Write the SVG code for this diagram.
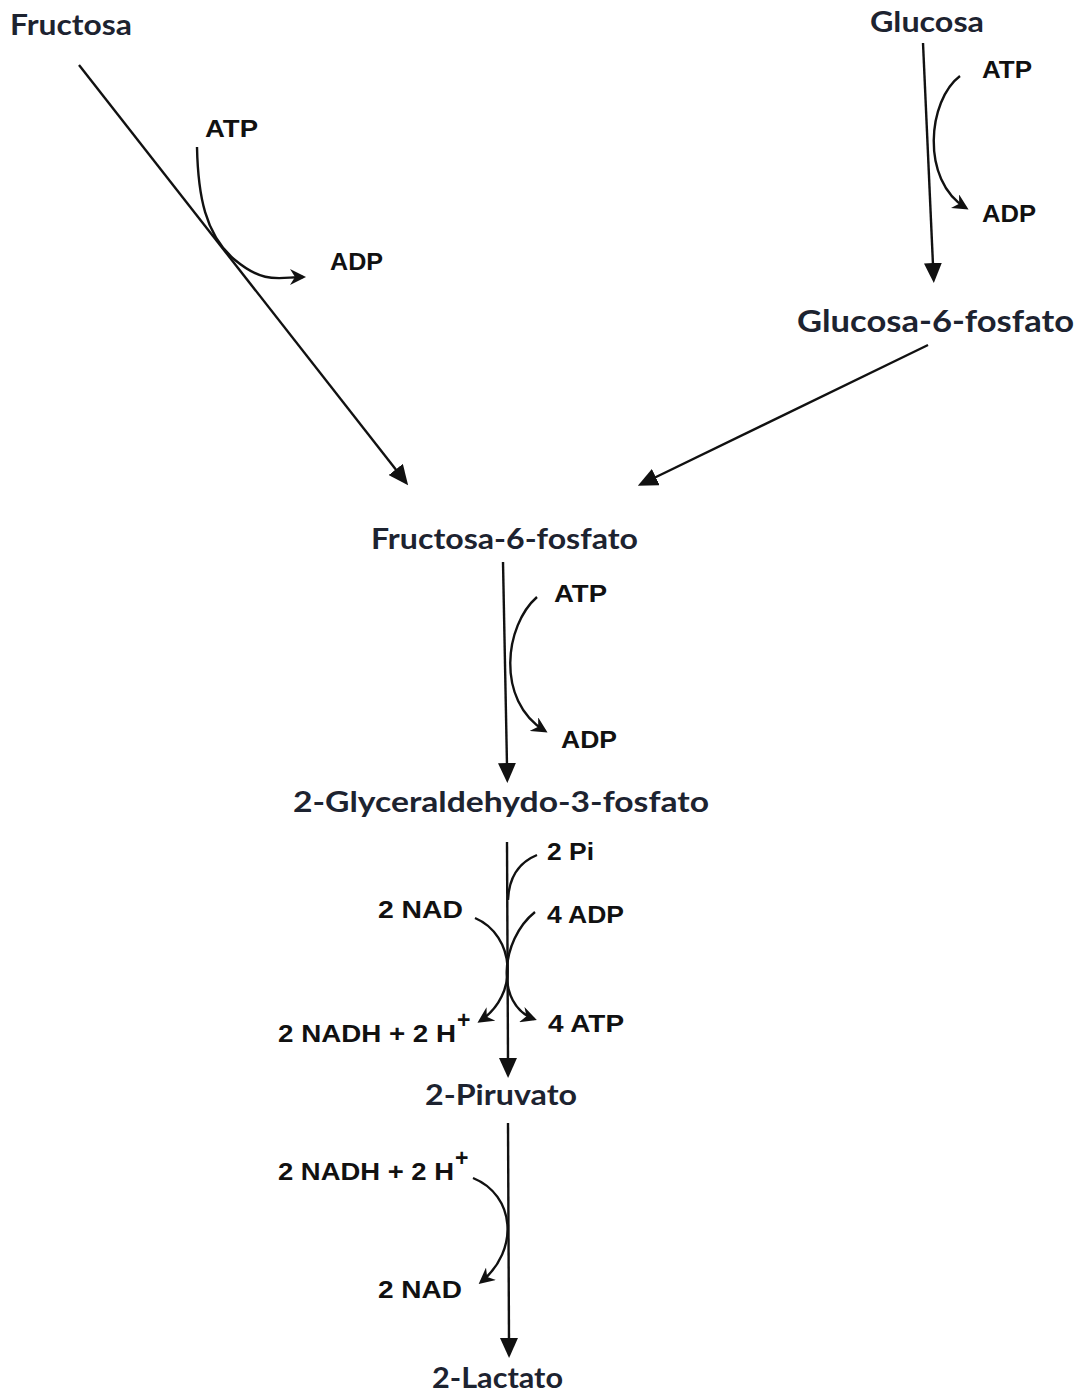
<svg xmlns="http://www.w3.org/2000/svg" width="1083" height="1399" viewBox="0 0 1083 1399">
<defs>
<style>
.met{font-family:Lato,"Open Sans","Liberation Sans",sans-serif;font-weight:700;fill:#1d2330;}
.lab{font-family:"Liberation Sans",Arial,sans-serif;font-weight:700;fill:#111;font-size:23px;}
.ln{stroke:#111;stroke-width:2.4;fill:none;}
</style>
<marker id="tri" markerUnits="userSpaceOnUse" viewBox="0 0 20 18" markerWidth="20" markerHeight="18" refX="2" refY="9" orient="auto">
<path d="M0,0 L20,9 L0,18 Z" fill="#111"/>
</marker>
<marker id="chev" markerUnits="userSpaceOnUse" viewBox="0 0 16 16" markerWidth="16" markerHeight="16" refX="13" refY="8" orient="auto">
<path d="M0,0 L16,8 L0,16 L5,8 Z" fill="#111"/>
</marker>
</defs>
<rect width="1083" height="1399" fill="#fff"/>
<g id="connectors">
<line class="ln" x1="79" y1="65" x2="397" y2="471" marker-end="url(#tri)"/>
<path class="ln" d="M197,147 C198,195 205,235 235,260 S280,277 303,277" marker-end="url(#chev)"/>
<line class="ln" x1="923" y1="43" x2="933" y2="265" marker-end="url(#tri)"/>
<path class="ln" d="M960,76 C928,100 920,180 966,208" marker-end="url(#chev)"/>
<line class="ln" x1="928" y1="345" x2="654" y2="478" marker-end="url(#tri)"/>
<line class="ln" x1="503" y1="562" x2="507" y2="765" marker-end="url(#tri)"/>
<path class="ln" d="M537,597 C505,625 495,700 545,731" marker-end="url(#chev)"/>
<line class="ln" x1="507" y1="842" x2="508" y2="1060" marker-end="url(#tri)"/>
<path class="ln" d="M537,855 C520,862 509,875 508,900"/>
<path class="ln" d="M475,918 C515,935 520,995 480,1021" marker-end="url(#chev)"/>
<path class="ln" d="M535,912 C500,940 495,1005 534,1019" marker-end="url(#chev)"/>
<line class="ln" x1="508" y1="1123" x2="509" y2="1340" marker-end="url(#tri)"/>
<path class="ln" d="M473,1178 C515,1195 520,1250 481,1282" marker-end="url(#chev)"/>
</g>
<g id="fructosa"><text class="met" x="10" y="35" font-size="28" textLength="122" lengthAdjust="spacingAndGlyphs">Fructosa</text></g>
<g id="glucosa"><text class="met" x="870" y="32" font-size="28" textLength="114" lengthAdjust="spacingAndGlyphs">Glucosa</text></g>
<g id="atp1"><text class="lab" x="205" y="137" textLength="53" lengthAdjust="spacingAndGlyphs">ATP</text></g>
<g id="adp1"><text class="lab" x="330" y="270" textLength="53" lengthAdjust="spacingAndGlyphs">ADP</text></g>
<g id="atp2"><text class="lab" x="982" y="78" textLength="50" lengthAdjust="spacingAndGlyphs">ATP</text></g>
<g id="adp2"><text class="lab" x="982" y="222" textLength="54" lengthAdjust="spacingAndGlyphs">ADP</text></g>
<g id="g6p"><text class="met" x="797" y="332" font-size="30" textLength="277" lengthAdjust="spacingAndGlyphs">Glucosa-6-fosfato</text></g>
<g id="f6p"><text class="met" x="371" y="549" font-size="28" textLength="267" lengthAdjust="spacingAndGlyphs">Fructosa-6-fosfato</text></g>
<g id="atp3"><text class="lab" x="554" y="602" textLength="53" lengthAdjust="spacingAndGlyphs">ATP</text></g>
<g id="adp3"><text class="lab" x="561" y="748" textLength="56" lengthAdjust="spacingAndGlyphs">ADP</text></g>
<g id="g3p"><text class="met" x="293" y="812" font-size="28" textLength="416" lengthAdjust="spacingAndGlyphs">2-Glyceraldehydo-3-fosfato</text></g>
<g id="pi"><text class="lab" x="547" y="860" textLength="47" lengthAdjust="spacingAndGlyphs">2 Pi</text></g>
<g id="nad1"><text class="lab" x="378" y="918" textLength="85" lengthAdjust="spacingAndGlyphs">2 NAD</text></g>
<g id="adp4"><text class="lab" x="547" y="923" textLength="77" lengthAdjust="spacingAndGlyphs">4 ADP</text></g>
<g id="nadh1"><text class="lab" x="278" y="1042" textLength="178" lengthAdjust="spacingAndGlyphs">2 NADH + 2 H</text><text class="lab" x="457" y="1028" font-size="13">+</text></g>
<g id="atp4"><text class="lab" x="548" y="1032" textLength="76" lengthAdjust="spacingAndGlyphs">4 ATP</text></g>
<g id="piruvato"><text class="met" x="425" y="1105" font-size="28" textLength="152" lengthAdjust="spacingAndGlyphs">2-Piruvato</text></g>
<g id="nadh2"><text class="lab" x="278" y="1180" textLength="176" lengthAdjust="spacingAndGlyphs">2 NADH + 2 H</text><text class="lab" x="455" y="1166" font-size="13">+</text></g>
<g id="nad2"><text class="lab" x="378" y="1298" textLength="84" lengthAdjust="spacingAndGlyphs">2 NAD</text></g>
<g id="lactato"><text class="met" x="432" y="1388" font-size="28" textLength="131" lengthAdjust="spacingAndGlyphs">2-Lactato</text></g>
</svg>
